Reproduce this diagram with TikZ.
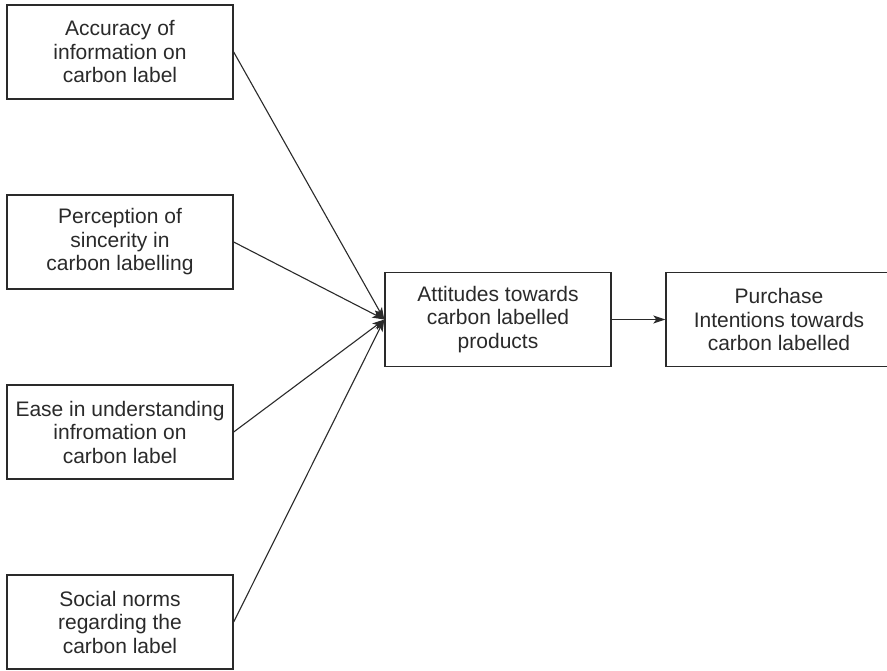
\documentclass[tikz,border=0pt]{standalone}
\usepackage{fontspec}
\setmainfont{Liberation Sans}
\usetikzlibrary{arrows.meta}
\definecolor{ink}{HTML}{2A2A2A}
\tikzset{
  factor/.style={draw=ink, line width=1.4pt, fill=white, text=ink,
    minimum width=226pt, minimum height=94pt, inner sep=0pt,
    align=center, font=\fontsize{21}{23.5}\selectfont},
  link/.style={draw=ink, line width=1.1pt,
    -{Stealth[length=12pt, width=8pt, inset=3pt]}}
}
\begin{document}
\begin{tikzpicture}[x=1pt, y=-1pt]
  \clip (0,0) rectangle (887,671);
  \fill[white] (0,0) rectangle (887,671);

  % antecedent factors
  \node[factor] (acc) at (120,52)  {Accuracy of\\information on\\carbon label};
  \node[factor] (sin) at (120,242) {Perception of\\sincerity in\\carbon labelling};
  \node[factor] (ease) at (120,432) {Ease in understanding\\infromation on\\carbon label};
  \node[factor] (soc) at (120,622) {Social norms\\regarding the\\carbon label};

  % mediator and outcome
  \node[factor] (att) at (498,319.5) {Attitudes towards\\carbon labelled\\products};
  \node[factor] (pur) at (779,319.5) {Purchase\\Intentions towards\\carbon labelled};

  % paths
  \draw[link] (acc.east) -- (att.west);
  \draw[link] (sin.east) -- (att.west);
  \draw[link] (ease.east) -- (att.west);
  \draw[link] (soc.east) -- (att.west);
  \draw[link] (att.east) -- (pur.west);
\end{tikzpicture}
\end{document}
